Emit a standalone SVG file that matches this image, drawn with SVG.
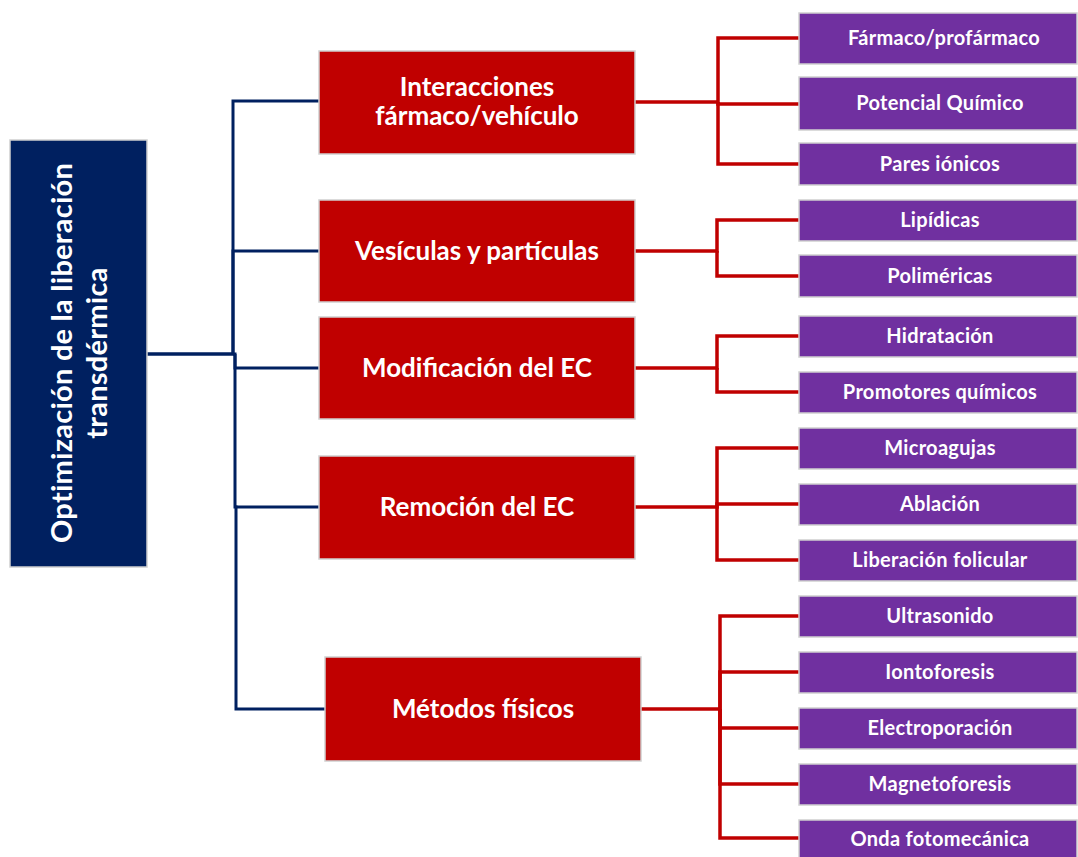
<svg xmlns="http://www.w3.org/2000/svg" width="1078" height="857" viewBox="0 0 1078 857">
<style>
.root{fill:#002060;stroke:#d0d0d0;stroke-width:1.5}
.red{fill:#C00000;stroke:#d0d0d0;stroke-width:1.5}
.pur{fill:#7030A0;stroke:#d0d0d0;stroke-width:1.5}
text{font-family:Lato,"Liberation Sans",sans-serif;font-weight:bold;fill:#fff;text-anchor:middle}
.tr{font-size:26px}
.tp{font-size:20px;letter-spacing:0.3px}
.tt{font-size:29px;letter-spacing:0.25px}
.nv{fill:none;stroke:#002060;stroke-width:3}
.rd{fill:none;stroke:#C00000;stroke-width:3.5}
</style>
<rect width="1078" height="857" fill="#fff"/>
<g id="connectors">
<path class="nv" d="M147,354 H233 V101 H319"/>
<path class="nv" d="M147,354 H233 V251 H319"/>
<path class="nv" d="M233,354 H235 V368 H319"/>
<path class="nv" d="M235,354 V507 H319"/>
<path class="nv" d="M235,507 H236 V709 H325"/>
<path class="rd" d="M635,102 H718 V38 H799"/>
<path class="rd" d="M718,102 V104 H799"/>
<path class="rd" d="M718,102 V164 H799"/>
<path class="rd" d="M635,251 H717 V220 H799"/>
<path class="rd" d="M717,251 V276 H799"/>
<path class="rd" d="M635,368 H717 V336 H799"/>
<path class="rd" d="M717,368 V392 H799"/>
<path class="rd" d="M635,507 H717 V448 H799"/>
<path class="rd" d="M717,507 V504 H799"/>
<path class="rd" d="M717,507 V560 H799"/>
<path class="rd" d="M641,709 H720 V616 H799"/>
<path class="rd" d="M720,709 V672 H799"/>
<path class="rd" d="M720,709 V728 H799"/>
<path class="rd" d="M720,709 V784 H799"/>
<path class="rd" d="M720,709 V838 H799"/>
</g>
<g id="root">
<rect class="root" x="10" y="140" width="137" height="427"/>
<text class="tt" transform="translate(78,353) rotate(-90)"><tspan x="0" y="-6">Optimización de la liberación</tspan><tspan x="0" y="29">transdérmica</tspan></text>
</g>
<g id="n1"><rect class="red" x="319" y="51" width="316" height="103"/><text class="tr" x="477" y="96">Interacciones</text><text class="tr" x="477" y="125">fármaco/vehículo</text></g>
<g id="n2"><rect class="red" x="319" y="200" width="316" height="102"/><text class="tr" x="477" y="260">Vesículas y partículas</text></g>
<g id="n3"><rect class="red" x="319" y="317" width="316" height="102"/><text class="tr" x="477" y="377">Modificación del EC</text></g>
<g id="n4"><rect class="red" x="319" y="456" width="316" height="103"/><text class="tr" x="477" y="516">Remoción del EC</text></g>
<g id="n5"><rect class="red" x="325" y="657" width="316" height="104"/><text class="tr" x="483" y="718">Métodos físicos</text></g>
<g id="p1"><rect class="pur" x="799" y="13" width="278" height="51"/><text class="tp" x="944" y="45">Fármaco/profármaco</text></g>
<g id="p2"><rect class="pur" x="799" y="77" width="278" height="53"/><text class="tp" x="940" y="110">Potencial Químico</text></g>
<g id="p3"><rect class="pur" x="799" y="143" width="278" height="42"/><text class="tp" x="940" y="171">Pares iónicos</text></g>
<g id="p4"><rect class="pur" x="799" y="200" width="278" height="41"/><text class="tp" x="940" y="227">Lipídicas</text></g>
<g id="p5"><rect class="pur" x="799" y="255" width="278" height="42"/><text class="tp" x="940" y="283">Poliméricas</text></g>
<g id="p6"><rect class="pur" x="799" y="316" width="278" height="41"/><text class="tp" x="940" y="343">Hidratación</text></g>
<g id="p7"><rect class="pur" x="799" y="372" width="278" height="41"/><text class="tp" x="940" y="399">Promotores químicos</text></g>
<g id="p8"><rect class="pur" x="799" y="428" width="278" height="41"/><text class="tp" x="940" y="455">Microagujas</text></g>
<g id="p9"><rect class="pur" x="799" y="484" width="278" height="41"/><text class="tp" x="940" y="511">Ablación</text></g>
<g id="p10"><rect class="pur" x="799" y="540" width="278" height="41"/><text class="tp" x="940" y="567">Liberación folicular</text></g>
<g id="p11"><rect class="pur" x="799" y="596" width="278" height="41"/><text class="tp" x="940" y="623">Ultrasonido</text></g>
<g id="p12"><rect class="pur" x="799" y="652" width="278" height="41"/><text class="tp" x="940" y="679">Iontoforesis</text></g>
<g id="p13"><rect class="pur" x="799" y="708" width="278" height="41"/><text class="tp" x="940" y="735">Electroporación</text></g>
<g id="p14"><rect class="pur" x="799" y="764" width="278" height="41"/><text class="tp" x="940" y="791">Magnetoforesis</text></g>
<g id="p15"><rect class="pur" x="799" y="820" width="278" height="40"/><text class="tp" x="940" y="846">Onda fotomecánica</text></g>
</svg>
